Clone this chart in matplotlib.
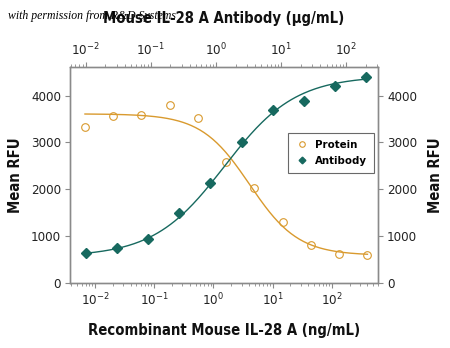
import numpy as np
import matplotlib
matplotlib.use("Agg")
import matplotlib.pyplot as plt
from matplotlib import font_manager as fm
from matplotlib.lines import Line2D

# look for a narrow sans (the original uses a condensed face)
FAMILY, STRETCH, SHRINK = "Roboto", "normal", 0.8
for want in ("Liberation Sans Narrow", "Noto Sans", "DejaVu Sans", "Roboto", "Open Sans"):
    hits = [f for f in fm.fontManager.ttflist
            if f.name == want and ("Narrow" in f.fname or "Condensed" in f.fname)
            and not any(k in f.fname for k in ("Semi", "Extra", "Ultra"))]
    if hits:
        FAMILY, STRETCH, SHRINK = want, hits[0].stretch, 1.0
        break

plt.rcParams["font.family"] = [FAMILY, "DejaVu Sans"]
plt.rcParams["font.stretch"] = STRETCH
plt.rcParams["mathtext.fontset"] = "custom"
plt.rcParams["mathtext.rm"] = f"{FAMILY}:stretch={STRETCH}"

# Recombinant protein, ng/mL (3-fold dilutions)
protein_conc = [0.00677, 0.0203, 0.061, 0.183, 0.549, 1.65, 4.94, 14.8, 44.4, 133, 400]
protein_rfu = [3340, 3555, 3575, 3797, 3520, 2592, 2024, 1310, 812, 613, 598]
# 4PL fit: value at zero dose, value at max dose, EC50, hill
protein_fit = (3610, 590, 4.1, 1.06)

# Neutralizing antibody, ug/mL (3-fold dilutions)
antibody_conc = [0.0102, 0.0305, 0.0914, 0.274, 0.823, 2.47, 7.41, 22.2, 66.7, 200]
antibody_rfu = [648, 755, 933, 1489, 2130, 3006, 3697, 3889, 4209, 4395]
antibody_fit = (560, 4420, 1.35, 0.8)

ORANGE = "#d99a2e"
TEAL = "#17695f"
GRAY = "#8a8a8a"


def four_pl(x, a, d, ec50, hill):
    return d + (a - d) / (1 + (x / ec50) ** hill)


def style(a):
    for s in a.spines.values():
        s.set_color(GRAY)
        s.set_linewidth(0.9)
    a.tick_params(which="both", direction="out", color=GRAY, labelsize=9.5 * SHRINK,
                  labelcolor="#222", pad=3)
    a.tick_params(which="major", length=3.5, width=0.8)
    a.tick_params(which="minor", length=2, width=0.6)


fig = plt.figure(figsize=(4.5, 3.48), dpi=100)
ax = fig.add_axes([70 / 450, 65 / 348, 308 / 450, 216 / 348])
ax.set_xscale("log")
ax.set_xlim(10 ** -2.422, 10 ** 2.78)
ax.set_ylim(0, 4610)
ax.set_yticks([0, 1000, 2000, 3000, 4000])

top = ax.twiny()
top.set_xscale("log")
top.set_xlim(10 ** -2.238, 10 ** 2.486)

right = ax.twinx()
right.set_ylim(ax.get_ylim())
right.set_yticks([0, 1000, 2000, 3000, 4000])

for a in (ax, top, right):
    style(a)

xs = np.logspace(np.log10(protein_conc[0]), np.log10(protein_conc[-1]), 200)
ax.plot(xs, four_pl(xs, *protein_fit), color=ORANGE, lw=1.0)
ax.plot(protein_conc, protein_rfu, "o", ms=5.5, mfc="none", mec=ORANGE, mew=0.8)

xs = np.logspace(np.log10(antibody_conc[0]), np.log10(antibody_conc[-1]), 200)
top.plot(xs, four_pl(xs, *antibody_fit), color=TEAL, lw=1.0)
top.plot(antibody_conc, antibody_rfu, "D", ms=4.6, color=TEAL)

lab = dict(fontsize=10.6 * SHRINK, fontweight="bold", color="#111")
ax.set_xlabel("Recombinant Mouse IL-28 A (ng/mL)", labelpad=10, **lab)
top.set_xlabel("Mouse IL-28 A Antibody (\u00b5g/mL)", labelpad=13, **lab)
ax.set_ylabel("Mean RFU", labelpad=6, **lab)
right.set_ylabel("Mean RFU", labelpad=8, **lab)

handles = [
    Line2D([], [], ls="none", marker="o", ms=4.0, mfc="none", mec=ORANGE, mew=0.8),
    Line2D([], [], ls="none", marker="D", ms=3.4, color=TEAL),
]
leg = right.legend(handles, ["Protein", "Antibody"], loc="upper left",
                   bbox_to_anchor=(288 / 450, 1 - 133 / 348), bbox_transform=fig.transFigure,
                   borderaxespad=0, fancybox=False, frameon=True, borderpad=0.6,
                   handletextpad=0.5, handlelength=1.3, labelspacing=0.55,
                   prop={"size": 8.2 * SHRINK, "weight": "bold"})
leg.get_frame().set_edgecolor("#444")
leg.get_frame().set_linewidth(0.8)

fig.text(8 / 450, 1 - 16 / 348, "with permission from R&D Systems", family="Liberation Serif",
         style="italic", fontsize=8.5, va="center", ha="left", zorder=0)

fig.savefig("out.png", dpi=100)
